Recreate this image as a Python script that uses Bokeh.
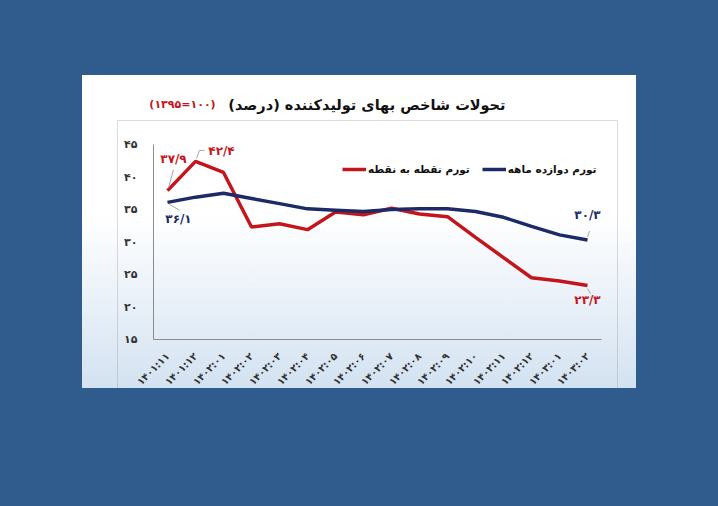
import math
from bokeh.plotting import figure
from bokeh.models import (Range1d, FixedTicker, Label, BoxAnnotation, Legend,
                          LegendItem, GlobalInlineStyleSheet, ColumnDataSource)
from bokeh.embed import file_html
from bokeh.resources import INLINE
from bokeh.core.properties import value

# ---------------- data ----------------
months = ["۱۴۰۱:۱۱", "۱۴۰۱:۱۲", "۱۴۰۲:۰۱", "۱۴۰۲:۰۲", "۱۴۰۲:۰۳", "۱۴۰۲:۰۴",
          "۱۴۰۲:۰۵", "۱۴۰۲:۰۶", "۱۴۰۲:۰۷", "۱۴۰۲:۰۸", "۱۴۰۲:۰۹", "۱۴۰۲:۱۰",
          "۱۴۰۲:۱۱", "۱۴۰۲:۱۲", "۱۴۰۳:۰۱", "۱۴۰۳:۰۲"]
point_to_point = [37.9, 42.4, 40.7, 32.3, 32.8, 31.9, 34.6, 34.2, 35.2, 34.3,
                  33.9, 30.7, 27.6, 24.5, 24.0, 23.3]
twelve_month = [36.1, 36.9, 37.5, 36.7, 35.9, 35.1, 34.9, 34.7, 35.0, 35.1,
                35.1, 34.7, 33.8, 32.4, 31.1, 30.3]
y_ticks = [15, 20, 25, 30, 35, 40, 45]
y_tick_labels = ["۱۵", "۲۰", "۲۵", "۳۰", "۳۵", "۴۰", "۴۵"]
title_text = "تحولات شاخص بهای تولیدکننده (درصد)\u200f"
base_text = "(۱۳۹۵=۱۰۰)"
legend_red = "تورم نقطه به نقطه"
legend_blue = "تورم دوازده ماهه"

RED = "#c3161c"
NAVY = "#1c2a68"
GRAY = "#8c8c8c"
FONT = "DejaVu Sans"

W, H = 554, 313
# chart area inside the panel (pixels from panel's left / top)
AX_L, AX_R, AX_T, AX_B = 71, 519, 69, 264
n = len(months)
x = list(range(n))
px_x = (AX_R - AX_L) / n                     # pixels per category
px_y = (AX_B - AX_T) / (y_ticks[-1] - y_ticks[0])  # pixels per unit
x_start = -0.5 - AX_L / px_x
x_end = n - 0.5 + (W - AX_R) / px_x
y_end = y_ticks[-1] + AX_T / px_y
y_start = y_ticks[0] - (H - AX_B) / px_y

p = figure(width=W, height=H,
           x_range=Range1d(x_start, x_end), y_range=Range1d(y_start, y_end),
           output_backend="svg", toolbar_location=None,
           min_border=0, min_border_left=0, min_border_right=0,
           min_border_top=0, min_border_bottom=0,
           background_fill_color=None, border_fill_color=None,
           outline_line_color=None, margin=(75, 0, 0, 82))
p.title.visible = False
p.stylesheets = [GlobalInlineStyleSheet(css="html, body { background-color: #2f5b8d; }")]
p.styles = {"background": "linear-gradient(to bottom, #ffffff 0%, #ffffff 45%, #d3e2f1 100%)"}

p.xgrid.visible = False
p.ygrid.visible = False

# inner frame box (screen units from the panel's bottom-left)
p.add_layout(BoxAnnotation(left=35, right=535, top=268, bottom=-20,
                           left_units="screen", right_units="screen",
                           top_units="screen", bottom_units="screen",
                           fill_color=None, line_color=GRAY, line_width=1,
                           level="underlay"))

# axes
p.yaxis.fixed_location = -0.5
p.yaxis.bounds = (y_ticks[0], y_ticks[-1])
p.yaxis.ticker = FixedTicker(ticks=y_ticks)
p.yaxis.major_label_overrides = {t: l for t, l in zip(y_ticks, y_tick_labels)}
p.yaxis.major_tick_line_color = None
p.yaxis.minor_tick_line_color = None
p.yaxis.axis_line_color = GRAY
p.yaxis.major_label_standoff = 10
p.yaxis.major_label_text_font = FONT
p.yaxis.major_label_text_font_size = "11px"
p.yaxis.major_label_text_font_style = "bold"
p.yaxis.major_label_text_color = "#333333"

p.xaxis.fixed_location = y_ticks[0]
p.xaxis.bounds = (-0.5, n - 0.5)
p.xaxis.ticker = FixedTicker(ticks=x)
p.xaxis.major_label_overrides = {i: m for i, m in zip(x, months)}
p.xaxis.major_tick_line_color = None
p.xaxis.minor_tick_line_color = None
p.xaxis.axis_line_color = GRAY
p.xaxis.major_label_orientation = math.pi / 4
p.xaxis.major_label_standoff = 9
p.xaxis.major_label_text_font = FONT
p.xaxis.major_label_text_font_size = "10px"
p.xaxis.major_label_text_font_style = "bold"
p.xaxis.major_label_text_color = "#333333"

# lines
r_red = p.line(x, point_to_point, line_color=RED, line_width=3.5)
r_blue = p.line(x, twelve_month, line_color=NAVY, line_width=3.5)

# data labels
lab_idx = [0, 1, 0, 15, 15]
lab_val = [point_to_point[0], point_to_point[1], twelve_month[0], twelve_month[15], point_to_point[15]]
lab_col = [RED, RED, NAVY, NAVY, RED]
lab_dx = [6, 26, 11, 0, 0]
lab_dy = [-32, -10, 17, -25, 14]
lab_txt = ["۳۷/۹", "۴۲/۴", "۳۶/۱", "۳۰/۳", "۲۳/۳"]
src = ColumnDataSource(dict(x=[x[i] for i in lab_idx], y=lab_val, t=lab_txt,
                            c=lab_col, dx=lab_dx, dy=lab_dy))
p.text(x="x", y="y", text="t", text_color="c", x_offset="dx", y_offset="dy",
       source=src, text_font=value(FONT), text_font_style="bold",
       text_font_size="12px", text_align="center", text_baseline="middle")

# leader lines (pixel offsets from the labelled point)
lead = [((1, -3), (6, -21)), ((1, -3), (4, -11)), ((2, 2), (12, 8)),
        ((0, -3), (2, -9)), ((0, 3), (3, 8))]
x0s, y0s, x1s, y1s = [], [], [], []
for (i, v), ((a, b), (c, d)) in zip(zip(lab_idx, lab_val), lead):
    x0s.append(x[i] + a / px_x); y0s.append(v - b / px_y)
    x1s.append(x[i] + c / px_x); y1s.append(v - d / px_y)
p.segment(x0s, y0s, x1s, y1s, line_color="#a6a6a6", line_width=1)
p.segment([x[1] + 4 / px_x], [point_to_point[1] + 11 / px_y],
          [x[1] + 9 / px_x], [point_to_point[1] + 11 / px_y],
          line_color="#a6a6a6", line_width=1)

# legend
legend = Legend(items=[LegendItem(label=legend_red, renderers=[r_red]),
                       LegendItem(label=legend_blue, renderers=[r_blue])],
                orientation="horizontal", location=(260, 212),
                border_line_color=None, background_fill_alpha=0,
                padding=0, margin=0, spacing=12, glyph_width=24,
                glyph_height=14, label_standoff=2, label_height=14,
                label_text_font=FONT, label_text_font_size="10.5px",
                label_text_font_style="bold", label_text_color="#111111")
p.add_layout(legend)

# title
p.add_layout(Label(x=423, y=284, x_units="screen", y_units="screen",
                   text=title_text, text_align="right", text_baseline="middle",
                   text_font=FONT, text_font_size="14.5px", text_font_style="bold",
                   text_color="#111111"))
p.add_layout(Label(x=100, y=284, x_units="screen", y_units="screen",
                   text=base_text, text_align="center", text_baseline="middle",
                   text_font=FONT, text_font_size="11px", text_font_style="bold",
                   text_color=RED))

open("out.html", "w").write(file_html(p, INLINE))
